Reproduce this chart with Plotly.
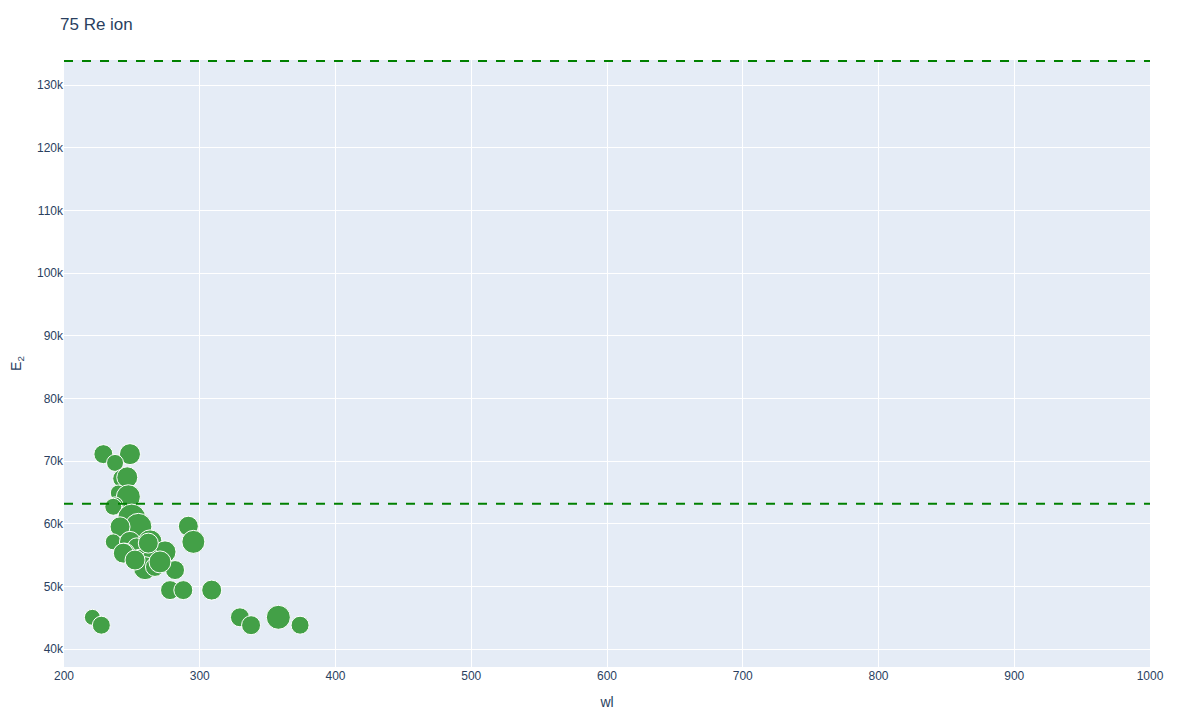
import plotly.graph_objects as go

# lines of the 75 Re ion: wavelength (nm), upper level energy (cm-1), marker size
wl = [229.0, 248.6, 237.6, 242.5, 246.6, 240.0, 247.4, 237.6, 236.3,
      249.9, 254.8, 241.3, 291.6, 295.3, 236.3, 248.6, 263.4, 253.5,
      244.9, 274.4, 256.0, 264.6, 259.7, 267.0, 281.8, 278.1, 287.9,
      308.8, 220.9, 227.5, 329.6, 337.8, 357.9, 373.9, 243.7, 252.3,
      270.7, 262.1]
e2 = [71100, 71100, 69700, 67200, 67400, 64900, 64300, 63000, 62700,
      60900, 59500, 59500, 59600, 57100, 57100, 57100, 57100, 56300,
      55300, 55500, 54500, 54200, 52900, 53100, 52600, 49400, 49400,
      49400, 45060, 43800, 45060, 43800, 45060, 43800, 55300, 54200,
      53900, 56900]
sz = [19, 21, 17, 18, 21, 16, 24, 16, 17,
      28, 27, 20, 20, 23, 16, 21, 24, 18,
      20, 22, 18, 21, 23, 19, 19, 19, 19,
      20, 16, 18, 19, 19, 24, 18, 20, 20,
      22, 20]

ion_limits = [63182, 133830]

fig = go.Figure()
fig.add_trace(go.Scatter(
    x=wl, y=e2, mode="markers",
    marker=dict(size=sz, color="rgb(67,160,71)", opacity=1,
                line=dict(color="white", width=1)),
    showlegend=False))

for lim in ion_limits:
    fig.add_hline(y=lim, line=dict(color="green", dash="dash", width=2))

# page has an 8px body margin, so margins are shifted to match
fig.update_layout(
    font=dict(family="Arial, Liberation Sans, sans-serif"),
    title=dict(text="75 Re ion", x=52 / 1200, xanchor="left",
               y=1 - 16 / 720, yanchor="middle"),
    width=1200, height=720,
    margin=dict(l=56, r=58, t=52, b=61),
    xaxis=dict(title="wl", range=[200, 1000], automargin=False),
    yaxis=dict(title="E<sub>2</sub>", range=[37130, 134000], automargin=False),
)
fig.write_html("out.html")
